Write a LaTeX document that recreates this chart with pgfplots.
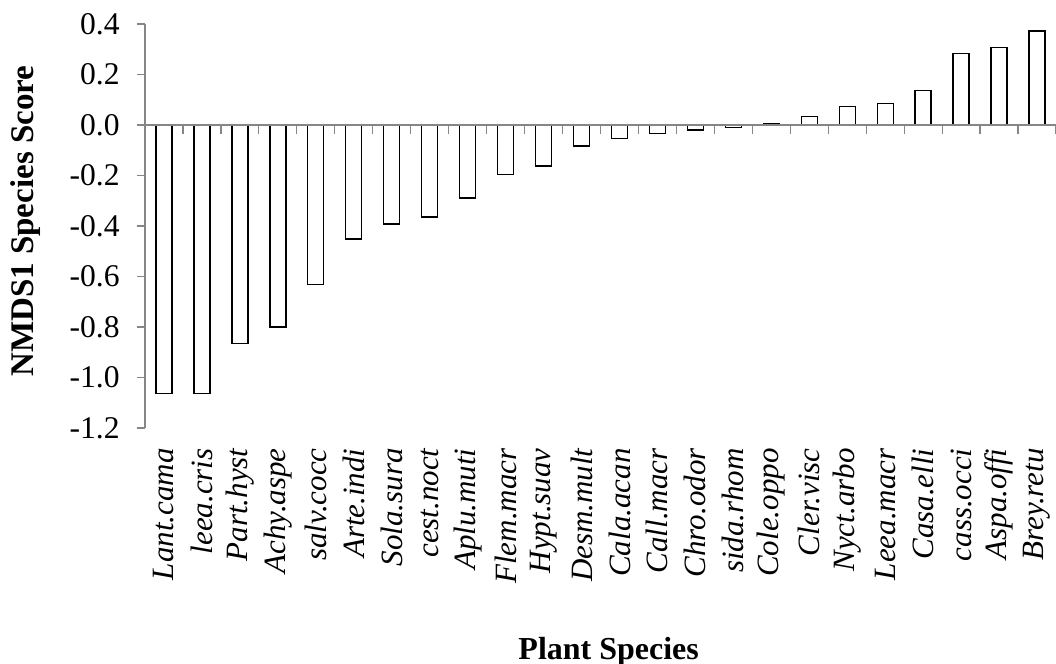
\documentclass[border=0pt]{standalone}
\usepackage{fontspec}
\setmainfont{Liberation Serif}
\usepackage{pgfplots}
\pgfplotsset{compat=1.18}
\definecolor{axgray}{HTML}{868686}
\pgfplotstableread{
idx val
0 -1.064
1 -1.064
2 -0.866
3 -0.800
4 -0.632
5 -0.451
6 -0.392
7 -0.364
8 -0.289
9 -0.197
10 -0.162
11 -0.083
12 -0.054
13 -0.034
14 -0.020
15 -0.011
16 0.004
17 0.033
18 0.072
19 0.086
20 0.137
21 0.284
22 0.306
23 0.372
}\scores
\begin{document}
\begin{tikzpicture}
\pgfplotsset{
  common/.style={scale only axis, width=455.5pt, height=202pt,
    xmin=-0.5, xmax=23.5, ymin=-1.2, ymax=0.4, at={(0,0)}, anchor=south west, clip=false}
}
\begin{axis}[common,
  axis y line=left, axis x line=bottom,
  x axis line style={draw=none},
  y axis line style={-, draw=axgray, line width=0.8pt},
  ytick={-1.2,-1.0,-0.8,-0.6,-0.4,-0.2,0,0.2,0.4},
  yticklabels={-1.2,-1.0,-0.8,-0.6,-0.4,-0.2,0.0,0.2,0.4},
  ytick align=outside, major tick length=4pt,
  ytick style={draw=axgray, line width=0.6pt},
  yticklabel style={font=\fontsize{15.8}{18}\selectfont, anchor=east, inner sep=0pt, inner xsep=8.5pt},
  xtick={0,...,23},
  xticklabels={Lant.cama,leea.cris,Part.hyst,Achy.aspe,salv.cocc,Arte.indi,Sola.sura,cest.noct,Aplu.muti,Flem.macr,Hypt.suav,Desm.mult,Cala.acan,Call.macr,Chro.odor,sida.rhom,Cole.oppo,Cler.visc,Nyct.arbo,Leea.macr,Casa.elli,cass.occi,Aspa.offi,Brey.retu},
  xtick style={draw=none},
  xticklabel style={font=\fontsize{15.5}{18}\selectfont\itshape, rotate=90, anchor=east, inner sep=0pt, inner xsep=8pt},
  xlabel={Plant Species}, ylabel={NMDS1 Species Score},
  every axis y label/.style={at={(axis description cs:-0.1306,0.512)}, anchor=center, rotate=90, font=\bfseries\fontsize{16.5}{19}\selectfont},
  every axis x label/.style={at={(axis description cs:0.509,-0.554)}, anchor=center, font=\bfseries\fontsize{16}{19}\selectfont},
]
\addplot[ybar, bar width=8pt, fill=white, draw=black, line width=0.65pt] table[x=idx, y=val] {\scores};
\end{axis}
\begin{axis}[common,
  axis x line=middle, axis y line=none,
  x axis line style={-, draw=axgray, line width=0.8pt},
  xtick={0.5,1.5,...,23.5}, xticklabels={}, ytick=\empty,
  xtick align=outside, major tick length=4.5pt,
  xtick style={draw=axgray, line width=0.6pt},
]
\end{axis}
\pgfresetboundingbox
\useasboundingbox (-72.5pt,-118pt) rectangle (455.5pt,214pt);
\end{tikzpicture}
\end{document}
